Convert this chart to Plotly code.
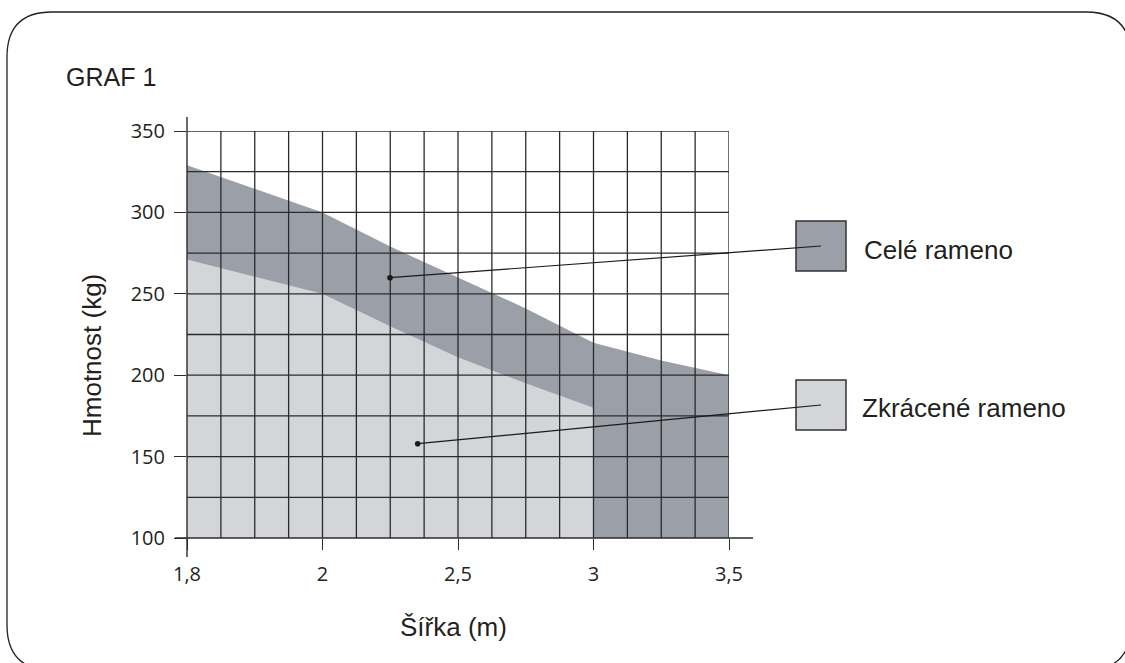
import numpy as np
import plotly.graph_objects as go

# ---------------- data ----------------
tick_widths = [1.8, 2.0, 2.5, 3.0, 3.5]          # axis labels (m), evenly spaced on the chart
tick_labels = ["1,8", "2", "2,5", "3", "3,5"]
y_ticks = [100, 150, 200, 250, 300, 350]

width_full = [1.8, 2.0, 2.25, 2.5, 2.75, 3.0, 3.25, 3.5]      # Celé rameno
weight_full = [329, 300, 279, 260, 241, 220, 209, 200]

width_short = [1.8, 2.0, 2.25, 2.5, 2.75, 3.0]                # Zkrácené rameno
weight_short = [271, 250, 230, 211, 195, 180]

series_names = ["Celé rameno", "Zkrácené rameno"]

# ---------------- styling ----------------
W, H = 1125, 663
PL, PR, PT, PB = 187, 729, 131, 538          # plot area in pixels
DARK = "#9b9fa7"
LIGHT = "#d3d5d9"
INK = "#231f20"
GRID = "#2b2b2b"
TEXT_FONT = "Liberation Sans, Arial, sans-serif"
TICK_FONT = "Open Sans, sans-serif"

tick_pos = list(range(len(tick_widths)))
y_lo, y_hi = y_ticks[0], y_ticks[-1]


def xmap(w):
    return np.interp(w, tick_widths, tick_pos)


def paper(x, y):
    return (x - PL) / (PR - PL), (PB - y) / (PB - PT)


fig = go.Figure()

fig.add_trace(go.Scatter(
    x=xmap(width_full), y=weight_full, mode="lines", fill="tozeroy",
    fillcolor=DARK, line=dict(width=0, color=DARK), name=series_names[0],
    hoverinfo="skip"))
fig.add_trace(go.Scatter(
    x=xmap(width_short), y=weight_short, mode="lines", fill="tozeroy",
    fillcolor=LIGHT, line=dict(width=0, color=LIGHT), name=series_names[1],
    hoverinfo="skip"))

# grid drawn above the filled areas
gx, gy = [], []
for v in np.arange(0.25, tick_pos[-1] + 0.001, 0.25):
    gx += [v, v, None]
    gy += [y_lo, y_hi, None]
for v in np.arange(y_lo + 25, y_hi + 0.001, 25):
    gx += [0, tick_pos[-1], None]
    gy += [v, v, None]
fig.add_trace(go.Scatter(x=gx, y=gy, mode="lines",
                         line=dict(color=GRID, width=1.3),
                         hoverinfo="skip", showlegend=False))

shapes = []
# extended axis lines
x0, y0 = paper(PL, 557)
x1, y1 = paper(PL, 117)
shapes.append(dict(type="line", xref="paper", yref="paper", x0=x0, y0=y0, x1=x1, y1=y1,
                   line=dict(color=GRID, width=1.4), layer="above"))
x0, y0 = paper(175, PB)
x1, y1 = paper(753, PB)
shapes.append(dict(type="line", xref="paper", yref="paper", x0=x0, y0=y0, x1=x1, y1=y1,
                   line=dict(color=GRID, width=1.4), layer="above"))

# legend boxes
for (top, col) in [(221, DARK), (380, LIGHT)]:
    a, b = paper(796, top)
    c, d = paper(846, top + 50)
    shapes.append(dict(type="rect", xref="paper", yref="paper", x0=a, y0=d, x1=c, y1=b,
                       fillcolor=col, line=dict(color="#333333", width=1.5), layer="above"))

# leader lines with dots
for (sx, sy, ex, ey) in [(390, 277.7, 821, 246), (417.7, 443.7, 821, 405)]:
    a, b = paper(sx, sy)
    c, d = paper(ex, ey)
    shapes.append(dict(type="line", xref="paper", yref="paper", x0=a, y0=b, x1=c, y1=d,
                       line=dict(color="#1a1a1a", width=1.2), layer="above"))
    shapes.append(dict(type="circle", xref="paper", yref="paper",
                       xsizemode="pixel", ysizemode="pixel", xanchor=a, yanchor=b,
                       x0=-2.8, x1=2.8, y0=-2.8, y1=2.8,
                       fillcolor="#1a1a1a", line=dict(width=0), layer="above"))

# rounded outer frame
L_, T_, R_, B_, r = 7, 12, 1131, 670, 45
pts = {
    "a": paper(L_ + r, T_), "b": paper(R_ - r, T_), "c": paper(R_, T_), "d": paper(R_, T_ + r),
    "e": paper(R_, B_ - r), "f": paper(R_, B_), "g": paper(R_ - r, B_), "h": paper(L_ + r, B_),
    "i": paper(L_, B_), "j": paper(L_, B_ - r), "k": paper(L_, T_ + r), "l": paper(L_, T_),
}
P = lambda k: f"{pts[k][0]:.5f},{pts[k][1]:.5f}"
path = (f"M{P('a')} L{P('b')} Q{P('c')} {P('d')} L{P('e')} Q{P('f')} {P('g')} "
        f"L{P('h')} Q{P('i')} {P('j')} L{P('k')} Q{P('l')} {P('a')} Z")
shapes.append(dict(type="path", xref="paper", yref="paper", path=path,
                   line=dict(color="#222222", width=1.3), layer="above"))

annotations = []


def add_text(text, x, y, size, xanchor="center", angle=0):
    a, b = paper(x, y)
    annotations.append(dict(text=text, xref="paper", yref="paper", x=a, y=b,
                            xanchor=xanchor, yanchor="middle", showarrow=False,
                            textangle=angle,
                            font=dict(family=TEXT_FONT, size=size, color=INK)))


add_text("GRAF 1", 64, 77, 25, xanchor="left")
add_text("Hmotnost (kg)", 92, 356, 26, angle=-90)
add_text("Šířka (m)", 453, 627, 26)
add_text(series_names[0], 862, 250, 26, xanchor="left")
add_text(series_names[1], 860, 408, 26, xanchor="left")

fig.update_layout(
    width=W, height=H,
    margin=dict(l=PL, r=W - PR, t=PT, b=H - PB, pad=0),
    paper_bgcolor="white", plot_bgcolor="white",
    showlegend=False,
    shapes=shapes, annotations=annotations,
    xaxis=dict(range=[tick_pos[0], tick_pos[-1]], tickvals=tick_pos, ticktext=tick_labels,
               ticks="outside", ticklen=11, tickwidth=1.3, tickcolor=GRID,
               showgrid=False, zeroline=False, showline=False,
               tickfont=dict(family=TICK_FONT, size=20, color=INK),
               ticklabelstandoff=7, fixedrange=True),
    yaxis=dict(range=[y_lo, y_hi], tickvals=y_ticks,
               ticks="outside", ticklen=12, tickwidth=1.3, tickcolor=GRID,
               showgrid=False, zeroline=False, showline=False,
               tickfont=dict(family=TICK_FONT, size=20, color=INK),
               ticklabelstandoff=5, fixedrange=True),
)

fig.write_html("out.html", config={"displayModeBar": False},
               post_script="document.body.style.margin='0';")
